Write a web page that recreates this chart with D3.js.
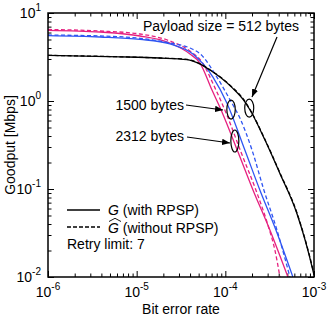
<!DOCTYPE html>
<html><head><meta charset="utf-8">
<script src="https://cdn.jsdelivr.net/npm/d3@7/dist/d3.min.js"></script>
<style>
body{margin:0;background:#fff}
svg{display:block}
text{font-family:"Liberation Sans",Arial,sans-serif;fill:#000}
</style>
</head><body>
<svg id="chart" width="327" height="319"></svg>
<script>
// ---- data ----
const ber512G   = [1e-6, 6.5e-6, 1.8e-5, 3.7e-5, 5.2e-5, 6.7e-5, 8.7e-5, 1.2e-4, 1.6e-4, 1.9e-4, 2.8e-4, 4.1e-4, 6.4e-4, 9.7e-4, 1e-3];
const gp512G    = [3.30, 3.18, 3.08, 2.96, 2.63, 2.25, 1.87, 1.41, 1.03, 0.79, 0.36, 0.152, 0.053, 0.012, 0.0105];
const ber512H   = [1e-6, 6.5e-6, 1.8e-5, 3.7e-5, 5.2e-5, 6.7e-5, 8.7e-5, 1.2e-4, 1.6e-4, 1.9e-4, 2.8e-4, 4.1e-4, 6.4e-4, 9.7e-4, 1e-3];
const gp512H    = [3.30, 3.18, 3.08, 2.97, 2.65, 2.27, 1.89, 1.43, 1.05, 0.80, 0.365, 0.155, 0.054, 0.0123, 0.0108];

const ber1500G  = [1e-6, 3.86e-6, 1.09e-5, 2.37e-5, 4.31e-5, 7.25e-5, 1.04e-4, 1.66e-4, 2.45e-4, 3.72e-4, 5.78e-4];
const gp1500G   = [5.52, 5.34, 5.02, 4.45, 3.42, 1.87, 0.95, 0.277, 0.0975, 0.0342, 0.01];
const ber1500H  = [1e-6, 3.86e-6, 1.09e-5, 2.37e-5, 3.99e-5, 5.18e-5, 8.03e-5, 1.13e-4, 1.46e-4, 2.0e-4, 2.72e-4, 3.82e-4, 5.35e-4];
const gp1500H   = [5.62, 5.48, 5.16, 4.56, 4.00, 3.45, 1.87, 1.03, 0.64, 0.277, 0.0975, 0.0342, 0.01];

const ber2312G  = [1e-6, 3.86e-6, 1.09e-5, 2.37e-5, 3.99e-5, 5.18e-5, 7.07e-5, 9.16e-5, 1.39e-4, 2.05e-4, 3.18e-4, 5.08e-4];
const gp2312G   = [6.36, 6.08, 5.48, 4.56, 3.42, 2.70, 1.33, 0.75, 0.263, 0.0975, 0.0342, 0.01];
const ber2312H  = [1e-6, 3.86e-6, 1.09e-5, 2.37e-5, 3.99e-5, 5.45e-5, 7.64e-5, 1.02e-4, 1.50e-4, 2.21e-4, 3.02e-4, 3.62e-4, 4.13e-4];
const gp2312H   = [6.49, 6.24, 5.77, 4.81, 3.70, 2.77, 1.41, 0.73, 0.263, 0.0975, 0.039, 0.0203, 0.01];

const xTickValues = [1e-6, 1e-5, 1e-4, 1e-3];
const xTickExps   = ["-6", "-5", "-4", "-3"];
const yTickValues = [1e-2, 1e-1, 1, 10];
const yTickExps   = ["-2", "-1", "0", "1"];

const colBlack = "#000", colBlue = "#2f55f2", colPink = "#e6207f";

// ---- layout ----
const L = 48, R = 314, T = 13, B = 277;
const svg = d3.select("#chart");
const x = d3.scaleLog().domain([1e-6, 1e-3]).range([L, R]);
const y = d3.scaleLog().domain([1e-2, 10]).range([B, T]);

const defs = svg.append("defs");
defs.append("clipPath").attr("id", "clip")
  .append("rect").attr("x", L).attr("y", T).attr("width", R - L).attr("height", B - T);

function minors(lo, hi) {
  const out = [];
  for (let e = Math.log10(lo); e < Math.log10(hi) - 1e-9; e++)
    for (let k = 2; k <= 9; k++) out.push(k * Math.pow(10, Math.round(e)));
  return out;
}
const xMin = minors(1e-6, 1e-3), yMin = minors(1e-2, 10);

function axisGroup(axisFn, vals, size, tr) {
  const g = svg.append("g").attr("transform", tr)
    .call(axisFn.tickValues(vals).tickSize(size).tickFormat(""));
  g.select(".domain").remove();
  g.selectAll(".tick line").attr("stroke", "#000").attr("stroke-width", 1);
  return g;
}
const MAJ = 6, MIN = 3.5;
axisGroup(d3.axisBottom(x), xTickValues, -MAJ, `translate(0,${B})`);
axisGroup(d3.axisBottom(x), xMin, -MIN, `translate(0,${B})`);
axisGroup(d3.axisTop(x), xTickValues, -MAJ, `translate(0,${T})`);
axisGroup(d3.axisTop(x), xMin, -MIN, `translate(0,${T})`);
axisGroup(d3.axisLeft(y), yTickValues, -MAJ, `translate(${L},0)`);
axisGroup(d3.axisLeft(y), yMin, -MIN, `translate(${L},0)`);
axisGroup(d3.axisRight(y), yTickValues, -MAJ, `translate(${R},0)`);
axisGroup(d3.axisRight(y), yMin, -MIN, `translate(${R},0)`);

// tick labels
xTickValues.forEach((v, i) => {
  const t = svg.append("text").attr("x", x(v)).attr("y", 297)
    .attr("text-anchor", "middle").attr("font-size", 14);
  t.append("tspan").text("10");
  t.append("tspan").attr("dy", -7).attr("font-size", 10).text(xTickExps[i]);
});
yTickValues.forEach((v, i) => {
  const t = svg.append("text").attr("x", 41).attr("y", y(v) + 5)
    .attr("text-anchor", "end").attr("font-size", 14);
  t.append("tspan").text("10");
  t.append("tspan").attr("dy", -7).attr("font-size", 10).text(yTickExps[i]);
});

// axis titles
svg.append("text").attr("x", (L + R) / 2).attr("y", 314).attr("text-anchor", "middle")
  .attr("font-size", 14).text("Bit error rate");
svg.append("text").attr("transform", `translate(15,${(T + B) / 2}) rotate(-90)`)
  .attr("text-anchor", "middle").attr("font-size", 14).text("Goodput [Mbps]");

// curves
const line = d3.line().x(d => x(d[0])).y(d => y(d[1])).curve(d3.curveMonotoneX);
const series = [
  {b: ber2312G, g: gp2312G, c: colPink, dash: null},
  {b: ber2312H, g: gp2312H, c: colPink, dash: "4,2.5"},
  {b: ber1500G, g: gp1500G, c: colBlue, dash: null},
  {b: ber1500H, g: gp1500H, c: colBlue, dash: "4,2.5"},
  {b: ber512G,  g: gp512G,  c: colBlack, dash: null},
  {b: ber512H,  g: gp512H,  c: colBlack, dash: "4,2.5"},
];
const cg = svg.append("g").attr("clip-path", "url(#clip)");
series.forEach(s => {
  cg.append("path").datum(s.b.map((b, i) => [b, s.g[i]]))
    .attr("d", line).attr("fill", "none").attr("stroke", s.c)
    .attr("stroke-width", 1.3).attr("stroke-dasharray", s.dash);
});

// frame
svg.append("rect").attr("x", L).attr("y", T).attr("width", R - L).attr("height", B - T)
  .attr("fill", "none").attr("stroke", "#000").attr("stroke-width", 1.5);

// annotations
defs.append("marker").attr("id", "arr").attr("viewBox", "0 0 10 10")
  .attr("refX", 10).attr("refY", 5).attr("markerWidth", 8).attr("markerHeight", 8)
  .attr("markerUnits", "userSpaceOnUse").attr("orient", "auto")
  .append("path").attr("d", "M0,1 L10,5 L0,9 Z").attr("fill", "#000");

function ellipse(b, g, rx, ry) {
  svg.append("ellipse").attr("cx", x(b)).attr("cy", y(g)).attr("rx", rx).attr("ry", ry)
    .attr("fill", "none").attr("stroke", "#000").attr("stroke-width", 1.2);
}
function arrow(x1, y1, x2, y2) {
  svg.append("line").attr("x1", x1).attr("y1", y1).attr("x2", x2).attr("y2", y2)
    .attr("stroke", "#000").attr("stroke-width", 1.2).attr("marker-end", "url(#arr)");
}
ellipse(1.86e-4, 0.83, 4.5, 9);
ellipse(1.16e-4, 0.80, 4.2, 9.5);
ellipse(1.28e-4, 0.351, 4, 11);

svg.append("text").attr("x", 143).attr("y", 31).attr("font-size", 14).text("Payload size = 512 bytes");
arrow(277, 37, 252, 97);
svg.append("text").attr("x", 184).attr("y", 109.5).attr("text-anchor", "end").attr("font-size", 14).text("1500 bytes");
arrow(186, 105, 223, 110);
svg.append("text").attr("x", 184).attr("y", 141).attr("text-anchor", "end").attr("font-size", 14).text("2312 bytes");
arrow(187, 137, 230, 143);

// legend
svg.append("line").attr("x1", 67).attr("x2", 100).attr("y1", 210).attr("y2", 210)
  .attr("stroke", "#000").attr("stroke-width", 1.3);
svg.append("line").attr("x1", 67).attr("x2", 100).attr("y1", 227).attr("y2", 227)
  .attr("stroke", "#000").attr("stroke-width", 1.3).attr("stroke-dasharray", "4,2");
const l1 = svg.append("text").attr("x", 108).attr("y", 215).attr("font-size", 14);
l1.append("tspan").attr("font-style", "italic").text("G");
l1.append("tspan").text(" (with RPSP)");
const l2 = svg.append("text").attr("x", 108).attr("y", 233).attr("font-size", 14);
l2.append("tspan").attr("font-style", "italic").text("G");
l2.append("tspan").text(" (without RPSP)");
svg.append("path").attr("d", "M109,221.5 L115,218.3 L121,221.5").attr("fill", "none")
  .attr("stroke", "#000").attr("stroke-width", 0.9);
svg.append("text").attr("x", 67).attr("y", 249).attr("font-size", 14).text("Retry limit: 7");
</script>
</body></html>
